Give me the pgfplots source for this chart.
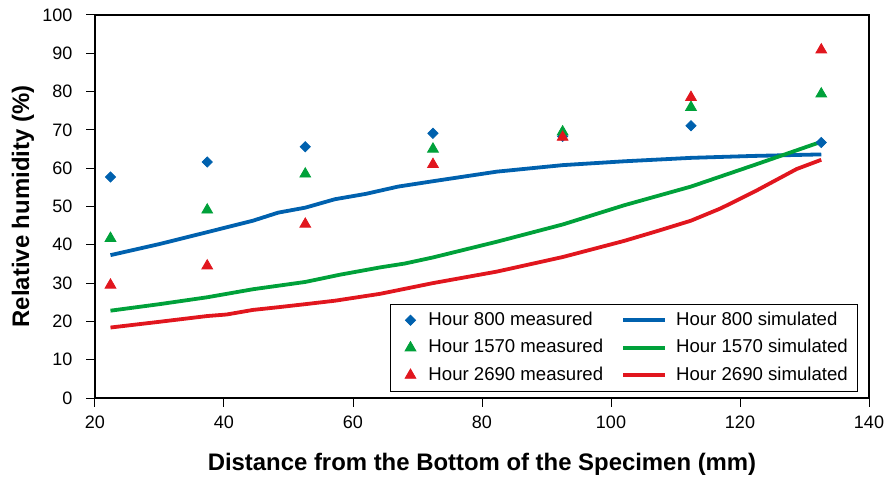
\documentclass[border=0pt]{standalone}
\usepackage{pgfplots}
\pgfplotsset{compat=1.18}
\usepackage{fontspec}
\setmainfont{Liberation Sans}
\definecolor{hblue}{HTML}{0061AE}
\definecolor{hgreen}{HTML}{00A13A}
\definecolor{hred}{HTML}{E1161E}

\pgfplotsset{
  simline/.style={line width=1.9pt,
    legend image code/.code={\path[draw=none] (0pt,0pt) -- (24.5pt,0pt);
      \draw[##1] (0pt,0pt) -- (21pt,0pt);}},
  markimg/.style={legend image code/.code={
      \path[draw=none] (0pt,0pt) -- (14pt,0pt);
      \draw[mark repeat=2, mark phase=2, ##1]
        plot coordinates {(0pt,0pt) (7pt,0pt) (14pt,0pt)};}},
  diam/.style={only marks, mark=square*, mark size=1.8pt,
    mark options={rotate=45, fill=#1, draw=#1}, color=#1, markimg},
  tri/.style={only marks, mark=triangle*, mark size=3.1pt,
    mark options={fill=#1, draw=#1}, color=#1, markimg},
}

\begin{document}
\begin{tikzpicture}
\begin{axis}[
  scale only axis, width=387pt, height=191.5pt,
  xmin=20, xmax=140, ymin=0, ymax=100,
  xtick={20,40,...,140}, ytick={0,10,...,100},
  xtick pos=bottom, ytick pos=left,
  tick align=outside, major tick length=4.3pt,
  tick style={black, line width=0.5pt},
  axis line style={line width=0.7pt},
  ticklabel style={font=\fontsize{9}{10}\selectfont},
  xticklabel style={yshift=-1pt},
  yticklabel style={xshift=-3.5pt},
  /pgf/number format/assume math mode=true,
  xlabel={Distance from the Bottom of the Specimen (mm)},
  ylabel={Relative humidity (\%)},
  label style={font=\fontsize{11.95}{14}\selectfont\bfseries},
  xlabel style={at={(axis description cs:0.5,-0.174)}, anchor=center},
  ylabel style={at={(axis description cs:-0.093,0.5)}, anchor=center},
  legend columns=2,
  legend cell align=left,
  legend style={at={(0.986,0.016)}, anchor=south east, draw=black,
    font=\fontsize{9.3}{11}\selectfont, row sep=1.5pt,
    /tikz/every even column/.append style={column sep=7pt}},
]
\coordinate (bl) at (rel axis cs:0,0);

% legend entries (row-wise: measured | simulated)
\addlegendimage{diam=hblue}
\addlegendentry{Hour 800 measured}
\addlegendimage{simline, hblue}
\addlegendentry{Hour 800 simulated}
\addlegendimage{tri=hgreen}
\addlegendentry{Hour 1570 measured}
\addlegendimage{simline, hgreen}
\addlegendentry{Hour 1570 simulated}
\addlegendimage{tri=hred}
\addlegendentry{Hour 2690 measured}
\addlegendimage{simline, hred}
\addlegendentry{Hour 2690 simulated}

% simulated
\addplot[simline, hblue, forget plot] coordinates {
  (22.4,37.3)(30,40.2)(37.4,43.3)(44.5,46.3)(48.4,48.4)(52.6,49.7)(57.2,51.9)
  (62,53.3)(67,55.2)(72.4,56.6)(82.3,59.1)(92.5,60.8)(102,61.8)(112.4,62.7)
  (122,63.2)(132.6,63.6)
};
\addplot[simline, hgreen, forget plot] coordinates {
  (22.4,22.8)(30,24.5)(37.4,26.3)(44.5,28.4)(52.6,30.3)(58,32.2)(64.2,34.1)
  (68,35.1)(72.4,36.7)(82.3,40.8)(92.5,45.3)(102,50.3)(112.4,55.2)(122.5,61)
  (132.6,66.9)
};
\addplot[simline, hred, forget plot] coordinates {
  (22.4,18.4)(30,19.9)(37.4,21.4)(40.4,21.8)(44.5,23.0)(48.4,23.7)(52.6,24.5)
  (57.2,25.4)(64.2,27.2)(72.4,30.0)(82.3,33.0)(92.5,36.8)(102,41)(107,43.5)
  (112.4,46.3)(117,49.5)(122.6,54.2)(128.8,59.8)(132.6,62.2)
};

% measured
\addplot[diam=hblue, forget plot] coordinates {
  (22.4,57.7)(37.4,61.6)(52.6,65.6)(72.4,69.1)(92.5,68.3)(112.4,71.1)(132.6,66.7)
};
\addplot[tri=hgreen, forget plot] coordinates {
  (22.4,41.7)(37.4,49.1)(52.6,58.5)(72.4,65.0)(92.5,69.5)(112.4,75.9)(132.6,79.4)
};
\addplot[tri=hred, forget plot] coordinates {
  (22.4,29.5)(37.4,34.5)(52.6,45.4)(72.4,61.0)(92.5,68.1)(112.4,78.5)(132.6,90.9)
};
\end{axis}
\pgfresetboundingbox
\path (bl) ++(-47.5pt,-39.5pt) rectangle ++(442pt,238.5pt);
\end{tikzpicture}
\end{document}
